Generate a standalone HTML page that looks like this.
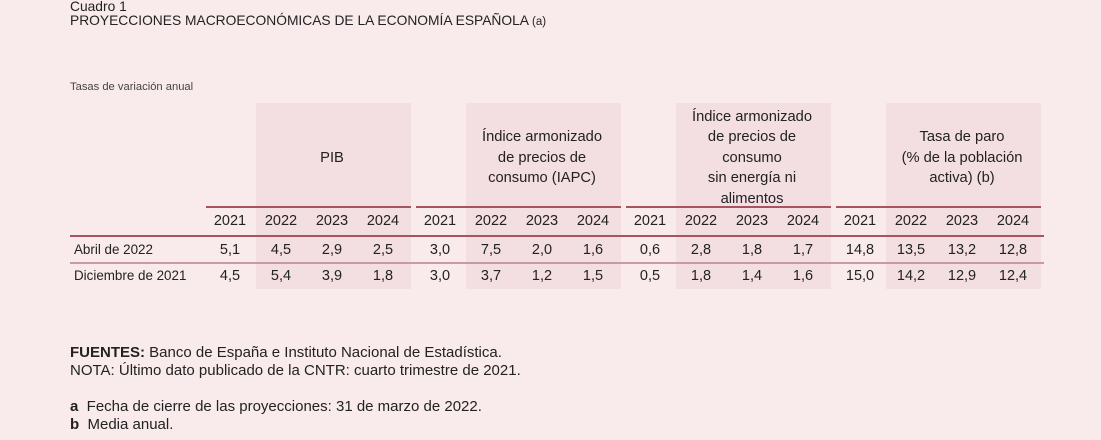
<!DOCTYPE html>
<html><head><meta charset="utf-8">
<style>
html,body{margin:0;padding:0}
body{width:1101px;height:440px;background:#f9ebec;position:relative;overflow:hidden;font-family:"Liberation Sans",Arial,sans-serif;color:#222}
.a{position:absolute;white-space:nowrap}
.shade{position:absolute;background:#f3dee1;top:103px;height:186px}
.rule{position:absolute;height:2px;background:#a65460}
.c{position:absolute;width:50px;text-align:center;font-size:14.5px;transform:translateX(-25px)}
.h{position:absolute;text-align:center;font-size:14.7px;line-height:20.5px;width:170px;transform:translateX(-85px)}
</style></head>
<body>
<div class="a" style="left:70px;top:-1px;font-size:13.8px">Cuadro 1</div>
<div class="a" style="left:70px;top:13px;font-size:13.8px">PROYECCIONES MACROECONÓMICAS DE LA ECONOMÍA ESPAÑOLA <span style="font-size:11.5px">(a)</span></div>
<div class="a" style="left:70px;top:81px;font-size:11.2px;color:#444">Tasas de variación anual</div>
<div id="tbl"></div>
<div class="a" style="left:70px;top:344px;font-size:15px;line-height:17.5px"><b>FUENTES:</b> Banco de España e Instituto Nacional de Estadística.<br>NOTA: Último dato publicado de la CNTR: cuarto trimestre de 2021.</div>
<div class="a" style="left:70px;top:398px;font-size:15px;line-height:17.5px"><b>a</b>&nbsp; Fecha de cierre de las proyecciones: 31 de marzo de 2022.<br><b>b</b>&nbsp; Media anual.</div>
<script>
const groups=[["PIB"],["Índice armonizado","de precios de","consumo (IAPC)"],["Índice armonizado","de precios de","consumo","sin energía ni","alimentos"],["Tasa de paro","(% de la población","activa) (b)"]];
const years=["2021","2022","2023","2024"];
const rowLabels=["Abril de 2022","Diciembre de 2021"];
const rowApr=["5,1","4,5","2,9","2,5","3,0","7,5","2,0","1,6","0,6","2,8","1,8","1,7","14,8","13,5","13,2","12,8"];
const rowDec=["4,5","5,4","3,9","1,8","3,0","3,7","1,2","1,5","0,5","1,8","1,4","1,6","15,0","14,2","12,9","12,4"];
const T=document.getElementById('tbl');
function mk(cls,style,txt){const d=document.createElement('div');d.className=cls;d.style.cssText=style;if(txt!=null)d.innerHTML=txt;T.appendChild(d);return d;}
const g0=230,gw=210,cw=51;
groups.forEach((g,i)=>{
  const x0=g0+i*gw;
  const s=mk('shade',`left:${x0+cw/2}px;width:${3*cw+2}px`);
  
  
  const r=mk('rule',`left:${x0-24}px;width:${4*cw+1}px;top:206px`);
  
  
  const n=g.length, cy=158, top=cy-n*20.5/2;
  const h=mk('h',`left:${x0+2*cw}px;top:${top}px`,g.join('<br>'));
  
  
  years.forEach((y,j)=>{
    const c=mk('c',`left:${x0+j*cw}px;top:213px`,y);
    
    
  });
});
const l1=mk('rule','left:70px;width:974px;top:235px');


const l2=mk('rule','left:70px;width:974px;top:262px;background:#c99aa2');


[rowApr,rowDec].forEach((row,ri)=>{
  const top=242+ri*26;
  const lb=mk('a',`left:74px;top:${top}px;font-size:13.4px`,rowLabels[ri]);
  
  
  row.forEach((v,k)=>{
    const gi=Math.floor(k/4),j=k%4;
    const c=mk('c',`left:${g0+gi*gw+j*cw}px;top:${top}px`,v);
    
    
  });
});
</script>
</body></html>
